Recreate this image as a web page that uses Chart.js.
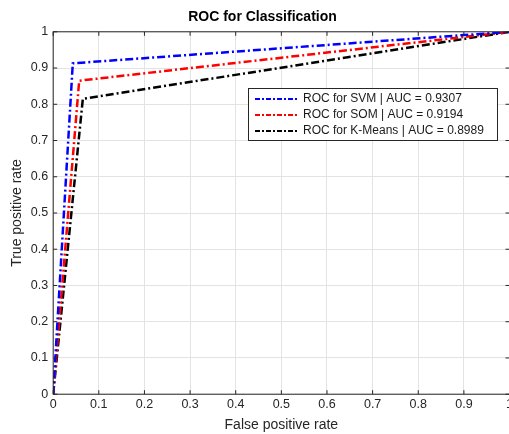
<!DOCTYPE html>
<html>
<head>
<meta charset="utf-8">
<script src="https://cdn.jsdelivr.net/npm/chart.js@4/dist/chart.umd.min.js"></script>
<style>
  html, body { margin: 0; padding: 0; background: #fff; overflow: hidden; }
  #wrap { width: 516px; height: 434px; }
</style>
</head>
<body>
<div id="wrap"><canvas id="roc"></canvas></div>
<script>
// ROC points (false positive rate, true positive rate)
const svmFpr = [0, 0.043, 1];
const svmTpr = [0, 0.913, 1];
const somFpr = [0, 0.057, 1];
const somTpr = [0, 0.865, 1];
const kmFpr = [0, 0.065, 1];
const kmTpr = [0, 0.815, 1];

const seriesLabels = [
  'ROC for SVM | AUC = 0.9307',
  'ROC for SOM | AUC = 0.9194',
  'ROC for K-Means | AUC = 0.8989'
];
const seriesColors = ['#0000ff', '#ff0000', '#000000'];
const dashPattern = [8, 3, 2, 3];

const toPoints = (xs, ys) => xs.map((x, i) => ({ x: x, y: ys[i] }));

// box, inside ticks and legend drawn like the matlab figure
const framePlugin = {
  id: 'frame',
  afterDraw(chart) {
    const { ctx, chartArea: a, scales } = chart;
    ctx.save();
    ctx.strokeStyle = '#262626';
    ctx.lineWidth = 1;
    ctx.strokeRect(a.left, a.top, a.right - a.left, a.bottom - a.top);
    // inside ticks
    for (let v = 0; v <= 10; v++) {
      const px = scales.x.getPixelForValue(v / 10);
      ctx.beginPath();
      ctx.moveTo(px, a.bottom); ctx.lineTo(px, a.bottom - 4);
      ctx.moveTo(px, a.top); ctx.lineTo(px, a.top + 4);
      const py = scales.y.getPixelForValue(v / 10);
      ctx.moveTo(a.left, py); ctx.lineTo(a.left + 4, py);
      ctx.moveTo(a.right, py); ctx.lineTo(a.right - 4, py);
      ctx.stroke();
    }
    // legend box
    const bx = 248, by = 88, bw = 249, bh = 52;
    ctx.fillStyle = '#fff';
    ctx.fillRect(bx, by, bw, bh);
    ctx.strokeStyle = '#262626';
    ctx.strokeRect(bx + 0.5, by + 0.5, bw, bh);
    ctx.font = '12px "Liberation Sans", Arial, sans-serif';
    ctx.textBaseline = 'middle';
    seriesLabels.forEach((lab, i) => {
      const ry = by + 11 + i * 16;
      ctx.strokeStyle = seriesColors[i];
      ctx.lineWidth = 2.2;
      ctx.setLineDash([5, 2, 2, 2]);
      ctx.beginPath();
      ctx.moveTo(bx + 7, ry); ctx.lineTo(bx + 50, ry);
      ctx.stroke();
      ctx.setLineDash([]);
      ctx.fillStyle = '#1a1a1a';
      ctx.fillText(lab, bx + 55, ry);
    });
    ctx.restore();
  }
};

const datasets = [
  toPoints(svmFpr, svmTpr),
  toPoints(somFpr, somTpr),
  toPoints(kmFpr, kmTpr)
].map((pts, i) => ({
  label: seriesLabels[i],
  data: pts,
  borderColor: seriesColors[i],
  backgroundColor: seriesColors[i],
  borderWidth: 2.5,
  borderDash: dashPattern,
  pointRadius: 0,
  showLine: true,
  fill: false,
  tension: 0
}));

const tickFont = { family: '"Liberation Sans", Arial, sans-serif', size: 12.5 };

new Chart(document.getElementById('roc'), {
  type: 'scatter',
  data: { datasets: datasets },
  options: {
    responsive: true,
    maintainAspectRatio: false,
    animation: false,
    layout: { padding: { left: 9, right: 0, top: 2, bottom: 0 } },
    scales: {
      x: {
        type: 'linear',
        min: 0,
        max: 1,
        ticks: {
          stepSize: 0.1,
          color: '#262626',
          font: tickFont,
          padding: 3,
          maxRotation: 0,
          callback: (v) => Number(v.toFixed(1)).toString()
        },
        grid: { color: '#e3e3e3', tickLength: 0, drawTicks: false },
        border: { display: false },
        title: { display: true, text: 'False positive rate', color: '#262626', font: { family: tickFont.family, size: 14 }, padding: { top: 2, bottom: 0 } }
      },
      y: {
        type: 'linear',
        min: 0,
        max: 1,
        ticks: {
          stepSize: 0.1,
          color: '#262626',
          font: tickFont,
          padding: 5,
          callback: (v) => Number(v.toFixed(1)).toString()
        },
        grid: { color: '#e3e3e3', drawTicks: false },
        border: { display: false },
        title: { display: true, text: 'True positive rate', color: '#262626', font: { family: tickFont.family, size: 14 }, padding: { top: 0, bottom: 0 } }
      }
    },
    plugins: {
      legend: { display: false },
      tooltip: { enabled: false },
      title: {
        display: true,
        text: 'ROC for Classification',
        color: '#000',
        font: { family: tickFont.family, size: 14, weight: 'bold' },
        padding: { top: 7, bottom: 6 }
      }
    }
  },
  plugins: [framePlugin]
});
</script>
</body>
</html>
